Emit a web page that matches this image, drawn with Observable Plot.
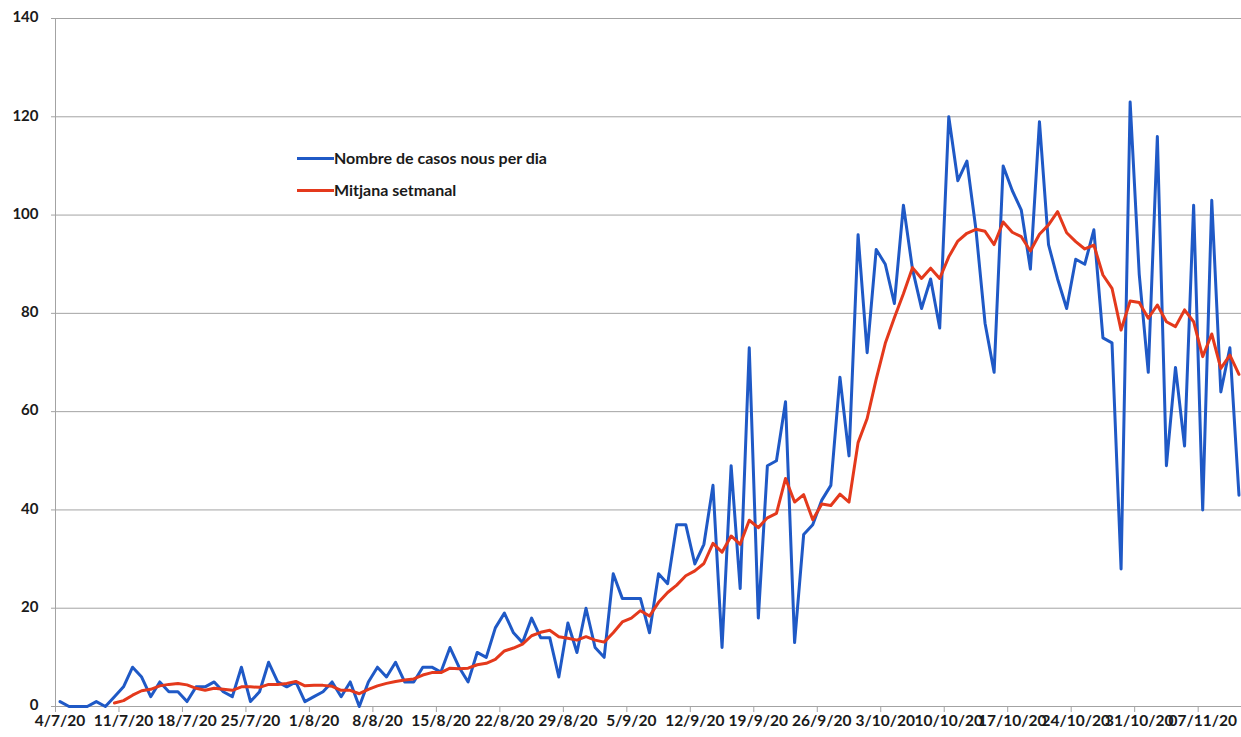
<!DOCTYPE html>
<html>
<head>
<meta charset="utf-8">
<script src="https://cdn.jsdelivr.net/npm/d3@7"></script>
<script src="https://cdn.jsdelivr.net/npm/@observablehq/plot@0.6"></script>
<style>
  html, body { margin: 0; padding: 0; background: #fff; overflow: hidden; }
  #wrap { position: relative; width: 1241px; height: 737px; overflow: hidden; }
  .leg { position: absolute; font-family: Lato, "Open Sans", sans-serif; font-weight: bold; font-size: 16px; color: #1a1a1a; white-space: nowrap; }
  .leg .sw { position: absolute; left: 0; top: 50%; width: 37px; height: 3px; margin-top: -1.5px; }
  .leg span.t { position: absolute; left: 37px; top: 0; line-height: 20px; }
</style>
</head>
<body>
<div id="wrap"></div>
<script>
// ---- data ----
const startDate = "2020-07-04";
const cases = [1,0,0,0,1,0,2,4,8,6,
  2,5,3,3,1,4,4,5,3,2,
  8,1,3,9,5,4,5,1,2,3,
  5,2,5,0,5,8,6,9,5,5,
  8,8,7,12,8,5,11,10,16,19,
  15,13,18,14,14,6,17,11,20,12,
  10,27,22,22,22,15,27,25,37,37,
  29,33,45,12,49,24,73,18,49,50,
  62,13,35,37,42,45,67,51,96,72,
  93,90,82,102,89,81,87,77,120,107,
  111,97,78,68,110,105,101,89,119,94,
  87,81,91,90,97,75,74,28,123,88,
  68,116,49,69,53,102,40,103,64,73,
  43];
const weeklyAvg = [null,null,null,null,null,null,
  0.7,1.2,2.3,3.2,3.5,4.2,4.5,4.7,4.4,3.7,
  3.3,3.7,3.5,3.3,4.0,4.0,3.9,4.5,4.5,4.7,
  5.1,4.2,4.3,4.3,4.1,3.3,3.3,2.6,3.5,4.2,
  4.7,5.1,5.4,5.6,6.4,6.9,6.9,7.8,7.7,7.8,
  8.5,8.8,9.6,11.3,11.9,12.7,14.4,15.1,15.5,14.2,
  13.9,13.5,14.2,13.5,13.1,15.0,17.2,18.0,19.5,18.4,
  21.2,23.2,24.7,26.6,27.6,29.1,33.2,31.4,34.7,33.0,
  37.9,36.4,38.4,39.3,46.4,41.6,43.1,38.0,41.2,40.9,
  43.2,41.6,53.7,58.6,66.6,73.9,79.1,84.0,89.3,87.1,
  89.2,87.1,91.5,94.7,96.3,97.1,96.7,94.0,98.6,96.5,
  95.6,92.7,96.1,98.0,100.7,96.4,94.6,93.1,93.9,87.8,
  85.1,76.6,82.5,82.2,79.0,81.7,78.3,77.3,80.7,78.3,
  71.2,75.8,68.8,71.5,67.6];
const tickLabels = ["4/7/20","11/7/20","18/7/20","25/7/20","1/8/20","8/8/20","15/8/20","22/8/20","29/8/20","5/9/20","12/9/20","19/9/20","26/9/20","3/10/20","10/10/20","17/10/20","24/10/20","31/10/20","07/11/20"];
const yTicks = [0,20,40,60,80,100,120,140];
const seriesNames = ["Nombre de casos nous per dia", "Mitjana setmanal"];
const colors = ["#1f59c6", "#e4391c"];

// ---- build ----
const DAY = 864e5;
const t0 = new Date(startDate + "T00:00:00Z").getTime();
const dateAt = i => new Date(t0 + i * DAY);
const casesData = cases.map((v, i) => ({date: dateAt(i), value: v}));
const avgData = weeklyAvg.map((v, i) => ({date: dateAt(i), value: v}));
const labelData = tickLabels.map((t, i) => ({date: dateAt(i * 7), label: t}));
const boundaries = tickLabels.map((t, i) => new Date(t0 + (i * 7 - 0.5) * DAY));
const xDomain = [new Date(t0 - 0.5 * DAY), new Date(t0 + (cases.length - 0.5) * DAY)];

const chart = Plot.plot({
  width: 1241,
  height: 737,
  marginLeft: 55,
  marginRight: 0,
  marginTop: 18,
  marginBottom: 31,
  style: {fontFamily: "Lato, 'Open Sans', sans-serif", fontSize: "14px", color: "#a3a3a3", background: "#fff", overflow: "hidden"},
  x: {type: "utc", domain: xDomain, range: [55, 1243], ticks: boundaries, tickSize: 6, tickFormat: () => "", line: false, label: null},
  y: {domain: [0, 140], ticks: yTicks, tickSize: 4, tickPadding: 0, tickFormat: () => "", line: true, label: null},
  marks: [
    Plot.ruleY(yTicks, {stroke: "#a3a3a3", strokeWidth: 1}),
    Plot.line(casesData, {x: "date", y: "value", stroke: colors[0], strokeWidth: 3, strokeLinejoin: "round"}),
    Plot.line(avgData, {x: "date", y: "value", stroke: colors[1], strokeWidth: 3, strokeLinejoin: "round"}),
    Plot.text(yTicks, {y: d => d, text: d => String(d), frameAnchor: "left", dx: -17, dy: -1, textAnchor: "end", fill: "#1a1a1a", fontWeight: "bold", fontSize: 15}),
    Plot.text(labelData, {x: "date", text: "label", frameAnchor: "bottom", dy: 19, fill: "#1a1a1a", fontWeight: "bold", fontSize: 15.5})
  ]
});
const wrap = document.getElementById("wrap");
wrap.appendChild(chart);

// legend (HTML, positioned over the plot area)
const legendTops = [148, 180];
seriesNames.forEach((name, i) => {
  const d = document.createElement("div");
  d.className = "leg";
  d.style.left = "297px";
  d.style.top = legendTops[i] + "px";
  d.style.height = "20px";
  d.style.width = "320px";
  const sw = document.createElement("div");
  sw.className = "sw";
  sw.style.background = colors[i];
  const t = document.createElement("span");
  t.className = "t";
  t.textContent = name;
  d.appendChild(sw);
  d.appendChild(t);
  wrap.appendChild(d);
});
</script>
</body>
</html>
